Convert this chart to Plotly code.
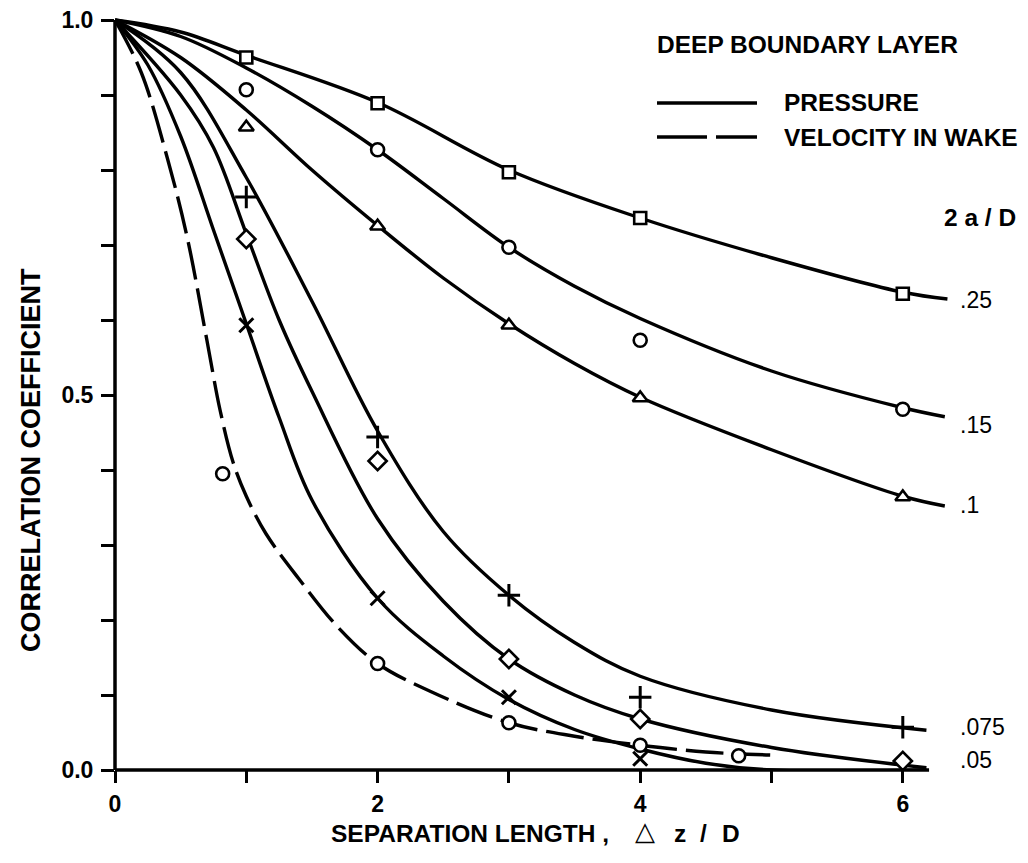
import plotly.graph_objects as go

# ---------------- data ----------------
x_pts = [1, 2, 3, 4, 6]
sq_y = [0.950, 0.889, 0.797, 0.736, 0.635]   # 2a/D = .25
ci_y = [0.907, 0.827, 0.697, 0.573, 0.481]   # 2a/D = .15
tr_y = [0.857, 0.725, 0.593, 0.496, 0.364]   # 2a/D = .1
pl_y = [0.764, 0.444, 0.233, 0.097, 0.057]   # 2a/D = .075
di_y = [0.708, 0.412, 0.148, 0.068, 0.012]   # 2a/D = .05
xm_y = [0.593, 0.229, 0.097, 0.015, -0.008]  # x markers
vel_x = [0.82, 2.0, 3.0, 4.0, 4.75]          # velocity in wake (dashed)
vel_y = [0.395, 0.142, 0.063, 0.033, 0.019]

# faired curves (knots)
c25_x = [0, 0.5, 1.0, 2.0, 3.0, 4.0, 5.0, 6.0, 6.34]
c25_y = [1.0, 0.984, 0.953, 0.89, 0.80, 0.736, 0.683, 0.637, 0.628]
c15_x = [0, 0.5, 1.0, 1.5, 2.0, 2.5, 3.0, 3.5, 4.0, 5.0, 6.0, 6.32]
c15_y = [1.0, 0.978, 0.936, 0.885, 0.827, 0.762, 0.697, 0.645, 0.602, 0.532, 0.483, 0.471]
c10_x = [0, 0.5, 1.0, 1.5, 2.0, 2.5, 3.0, 3.5, 4.0, 5.0, 6.0, 6.32]
c10_y = [1.0, 0.95, 0.88, 0.80, 0.726, 0.656, 0.595, 0.542, 0.497, 0.427, 0.365, 0.352]
c075_x = [0, 0.5, 1.0, 1.5, 2.0, 2.5, 3.0, 3.5, 4.0, 5.0, 6.18]
c075_y = [1.0, 0.93, 0.79, 0.625, 0.452, 0.318, 0.233, 0.17, 0.125, 0.08, 0.053]
c05_x = [0, 0.5, 0.75, 1.0, 1.25, 1.5, 2.0, 2.5, 3.0, 3.5, 4.0, 5.0, 6.18]
c05_y = [1.0, 0.90, 0.83, 0.715, 0.60, 0.505, 0.335, 0.225, 0.148, 0.10, 0.068, 0.03, 0.003]
cx_x = [0, 0.25, 0.5, 0.75, 1.0, 1.25, 1.5, 2.0, 2.5, 3.0, 3.5, 4.0, 4.5, 5.0, 6.18]
cx_y = [1.0, 0.94, 0.845, 0.72, 0.595, 0.47, 0.36, 0.229, 0.152, 0.094, 0.054, 0.028, 0.009, 0.0, 0.0]
cv_x = [0, 0.2, 0.4, 0.55, 0.7, 0.8, 0.9, 1.0, 1.15, 1.4, 1.7, 2.0, 2.4, 3.0, 3.5, 4.0, 4.5, 4.99]
cv_y = [1.0, 0.93, 0.815, 0.71, 0.573, 0.48, 0.41, 0.365, 0.315, 0.255, 0.19, 0.142, 0.105, 0.063, 0.045, 0.033, 0.024, 0.02]

curve_labels = [".25", ".15", ".1", ".075", ".05"]
x_ticks = [0, 1, 2, 3, 4, 5, 6]
x_ticktext = ["0", "", "2", "", "4", "", "6"]
y_ticks = [0, 0.1, 0.2, 0.3, 0.4, 0.5, 0.6, 0.7, 0.8, 0.9, 1.0]
y_ticktext = ["0.0", "", "", "", "", "0.5", "", "", "", "", "1.0"]

# ---------------- layout geometry ----------------
# the page body has an 8px margin, so the figure sits at (8, 8) in the window
OFF = 8
W, H = 1020, 855
L, R, T, B = 107, 66, 0, 93
PW, PH = W - L - R, H - T - B
BLACK = "#000000"
FONT = "Liberation Sans"


def px(p):  # window pixel x -> paper
    return (p - OFF - L) / PW


def py(p):  # window pixel y -> paper
    return (H - B - (p - OFF)) / PH


fig = go.Figure()

LW = 3.4
for cxs, cys in [(c25_x, c25_y), (c15_x, c15_y), (c10_x, c10_y),
                 (c075_x, c075_y), (c05_x, c05_y), (cx_x, cx_y)]:
    fig.add_trace(go.Scatter(x=cxs, y=cys, mode="lines",
                             line=dict(color=BLACK, width=LW, shape="spline", smoothing=1.0),
                             showlegend=False, hoverinfo="skip"))
fig.add_trace(go.Scatter(x=cv_x, y=cv_y, mode="lines",
                         line=dict(color=BLACK, width=LW, shape="spline", smoothing=1.0,
                                   dash="38px,9px"),
                         showlegend=False, hoverinfo="skip"))


def mk(xs, ys, symbol, size, lw=2.6, fill="white"):
    fig.add_trace(go.Scatter(x=xs, y=ys, mode="markers", cliponaxis=False,
                             marker=dict(symbol=symbol, size=size, color=fill,
                                         line=dict(color=BLACK, width=lw)),
                             showlegend=False))


mk(x_pts, sq_y, "square", 12)
mk(x_pts, ci_y, "circle", 13)
mk(x_pts, tr_y, "triangle-up", 13)
mk(x_pts, pl_y, "cross-thin", 16, lw=3)
mk(x_pts, di_y, "diamond", 14)
mk(x_pts, xm_y, "x-thin", 14, lw=3)
mk(vel_x, vel_y, "circle", 13)

# axis lines (one paper ref each so they are not half-clipped at the plot edge)
fig.add_shape(type="line", xref="x", yref="paper", x0=0, x1=6.2, y0=0, y1=0,
              line=dict(color=BLACK, width=3.5), layer="above")
fig.add_shape(type="line", xref="paper", yref="y", x0=0, x1=0, y0=0, y1=1.0,
              line=dict(color=BLACK, width=3.5), layer="above")

# legend lines
fig.add_shape(type="line", xref="paper", yref="paper", x0=px(657), x1=px(757),
              y0=py(103), y1=py(103), line=dict(color=BLACK, width=3.5))
fig.add_shape(type="line", xref="paper", yref="paper", x0=px(657), x1=px(707),
              y0=py(137), y1=py(137), line=dict(color=BLACK, width=3.5))
fig.add_shape(type="line", xref="paper", yref="paper", x0=px(716), x1=px(757),
              y0=py(137), y1=py(137), line=dict(color=BLACK, width=3.5))

bold = dict(family=FONT, size=24.5, color=BLACK, weight="bold")
tickf = dict(family=FONT, size=23, color=BLACK, weight="bold")
reg = dict(family=FONT, size=23, color=BLACK)


def ann(text, x, y, font, xanchor="left", **kw):
    fig.add_annotation(text=text, x=px(x), y=py(y), xref="paper", yref="paper",
                       xanchor=xanchor, yanchor="middle", showarrow=False, font=font, **kw)


ann("DEEP BOUNDARY LAYER", 655, 45, bold)
ann("PRESSURE", 782, 103, bold)
ann("VELOCITY IN WAKE", 782, 137, bold)
ann("2 a / D", 942, 218, bold)
for lab, yy in zip(curve_labels, [300, 425, 505, 727, 760]):
    ann(lab, 958, yy, reg)
# x-axis title (pieces placed like the reference's spaced lettering)
ann("SEPARATION LENGTH ,", 329, 833, bold)
ann("\u25B3", 645, 831, dict(family="DejaVu Sans", size=26, color=BLACK), xanchor="center")
ann("z", 680, 833, bold, xanchor="center")
ann("/", 703, 833, bold, xanchor="center")
ann("D", 731, 833, bold, xanchor="center")
ann("CORRELATION COEFFICIENT", 31, 460, dict(family=FONT, size=27, color=BLACK, weight="bold"),
    xanchor="center", textangle=-90)

fig.update_layout(
    width=W, height=H,
    margin=dict(l=L, r=R, t=T, b=B, pad=0, autoexpand=False),
    paper_bgcolor="white", plot_bgcolor="white",
    showlegend=False,
    xaxis=dict(range=[0, PW / 131.3], showline=False, showgrid=False, zeroline=False,
               automargin=False, ticklabeloverflow="allow",
               tickmode="array", tickvals=x_ticks, ticktext=x_ticktext,
               ticks="outside", ticklen=12, tickwidth=3, tickcolor=BLACK,
               tickfont=tickf, ticklabelstandoff=1),
    yaxis=dict(range=[0, PH / 750.0], showline=False, showgrid=False, zeroline=False,
               automargin=False, ticklabeloverflow="allow",
               tickmode="array", tickvals=y_ticks, ticktext=y_ticktext,
               ticks="outside", ticklen=13, tickwidth=3, tickcolor=BLACK,
               tickfont=tickf, ticklabelstandoff=3),
)

fig.write_html("out.html")
